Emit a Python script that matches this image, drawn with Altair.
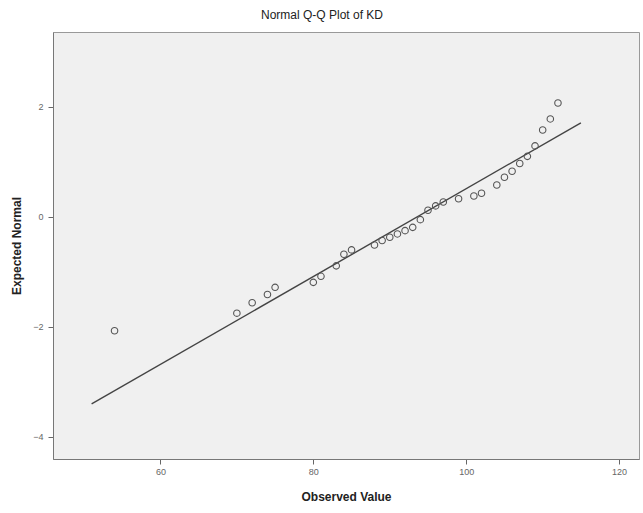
import altair as alt
import pandas as pd

observed = [54, 70, 72, 74, 75, 80, 81, 83, 84, 85, 88, 89, 90, 91, 92, 93,
            94, 95, 96, 97, 99, 101, 102, 104, 105, 106, 107, 108, 109, 110, 111, 112]
expected = [-2.07, -1.75, -1.56, -1.41, -1.28, -1.19, -1.08, -0.89, -0.68, -0.60,
            -0.51, -0.43, -0.37, -0.31, -0.25, -0.19, -0.05, 0.12, 0.20, 0.27,
            0.33, 0.38, 0.43, 0.58, 0.72, 0.83, 0.97, 1.10, 1.29, 1.58, 1.78, 2.07]

# Reference line endpoints
line_x = [51, 115]
line_y = [-3.40, 1.71]

x_ticks = [60, 80, 100, 120]
y_ticks = [-4, -2, 0, 2]

pts = pd.DataFrame({"obs": observed, "exp": expected})
ln = pd.DataFrame({"obs": line_x, "exp": line_y})

FONT = "Liberation Sans"

x_scale = alt.Scale(domain=[45.95, 122.6], nice=False, zero=False)
y_scale = alt.Scale(domain=[-4.40, 3.36], nice=False, zero=False)

x_axis = alt.Axis(values=x_ticks, title="Observed Value", grid=False, format="d",
                  labelFontSize=9, labelColor="#666", labelFont=FONT,
                  tickColor="#666", tickSize=5, domainColor="#777",
                  labelPadding=3, titleFont=FONT, titleFontSize=12,
                  titleFontWeight="bold", titleColor="#222", titlePadding=15)
y_axis = alt.Axis(values=y_ticks, title="Expected Normal", grid=False, format="d",
                  labelFontSize=9, labelColor="#666", labelFont=FONT,
                  tickColor="#666", tickSize=5, domainColor="#777",
                  labelPadding=5, titleFont=FONT, titleFontSize=12,
                  titleFontWeight="bold", titleColor="#222", titlePadding=9)

line = alt.Chart(ln).mark_line(color="#444", strokeWidth=1.4).encode(
    x=alt.X("obs:Q", scale=x_scale, axis=x_axis),
    y=alt.Y("exp:Q", scale=y_scale, axis=y_axis),
)

points = alt.Chart(pts).mark_point(shape="circle", filled=False, color="#555",
                                   strokeWidth=1.1, size=42, opacity=1).encode(
    x=alt.X("obs:Q", scale=x_scale),
    y=alt.Y("exp:Q", scale=y_scale),
)

chart = (line + points).properties(
    width=586,
    height=427,
    autosize=alt.AutoSizeParams(type="none"),
    padding={"left": 53, "top": 32, "right": 4, "bottom": 54},
    title=alt.TitleParams("Normal Q-Q Plot of KD", font=FONT, fontSize=12,
                          fontWeight="normal", color="#222", anchor="middle",
                          dx=-24, offset=10),
    background="white",
).configure_view(fill="#f0f0f0", stroke="#999", strokeWidth=1)

chart.save("out.html", embed_options={"renderer": "svg", "actions": False})
